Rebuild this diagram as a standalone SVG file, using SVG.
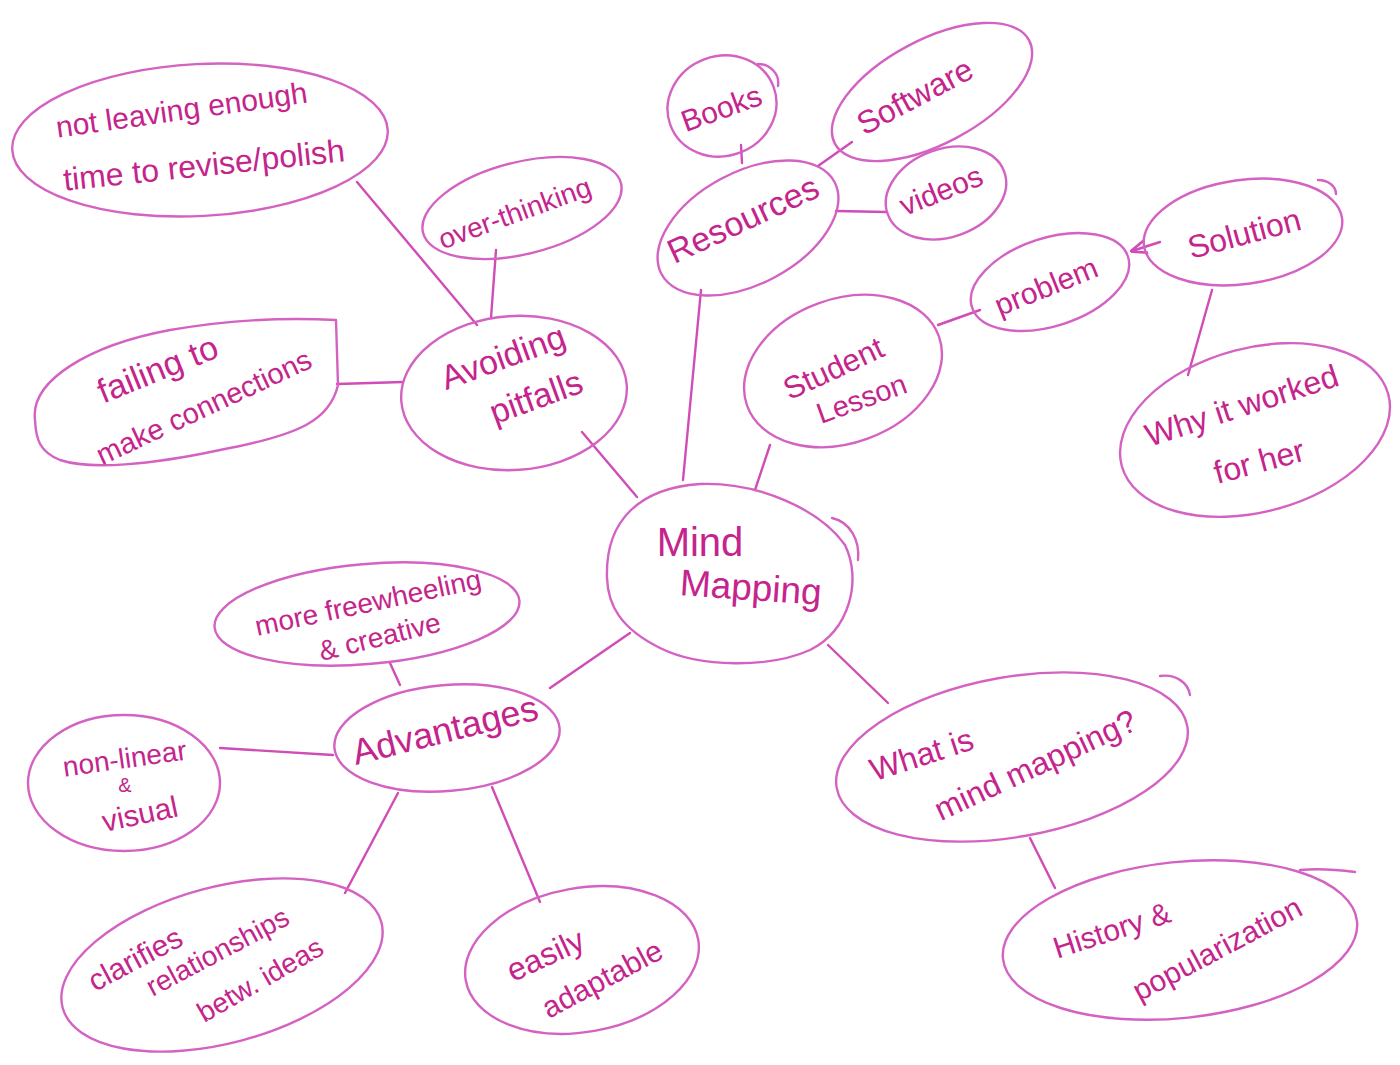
<svg xmlns="http://www.w3.org/2000/svg" width="1400" height="1065" viewBox="0 0 1400 1065">
<style>
.b{fill:none;stroke:#d462c2;stroke-width:2.4;stroke-linecap:round;stroke-linejoin:round}
.c{fill:none;stroke:#d04cb6;stroke-width:2.4;stroke-linecap:round}
.t{fill:#c4248c;font-family:"Liberation Sans","DejaVu Sans",sans-serif;text-anchor:middle}
</style>
<defs>
<marker id="ah" viewBox="0 0 10 10" refX="9" refY="5" markerWidth="7" markerHeight="7" orient="auto">
<path d="M0,1 L10,5 L0,9" fill="none" stroke="#d04cb6" stroke-width="1.6"/>
</marker>
</defs>
<rect width="1400" height="1065" fill="#ffffff"/>
<g id="connectors">
<line class="c" x1="637" y1="497" x2="582" y2="432"/>
<line class="c" x1="477" y1="325" x2="357" y2="182"/>
<line class="c" x1="491" y1="318" x2="496" y2="250"/>
<line class="c" x1="403" y1="382" x2="337" y2="384"/>
<line class="c" x1="683" y1="480" x2="701" y2="290"/>
<line class="c" x1="742" y1="163" x2="741" y2="145"/>
<line class="c" x1="818" y1="166" x2="852" y2="142"/>
<line class="c" x1="836" y1="211" x2="887" y2="212"/>
<line class="c" x1="755" y1="490" x2="770" y2="445"/>
<line class="c" x1="938" y1="325" x2="980" y2="310"/>
<line class="c" x1="1160" y1="242" x2="1132" y2="251" marker-end="url(#ah)"/>
<line class="c" x1="1212" y1="290" x2="1188" y2="375"/>
<line class="c" x1="828" y1="645" x2="888" y2="703"/>
<line class="c" x1="1030" y1="838" x2="1055" y2="888"/>
<line class="c" x1="630" y1="633" x2="550" y2="688"/>
<line class="c" x1="400" y1="685" x2="390" y2="663"/>
<line class="c" x1="333" y1="755" x2="220" y2="748"/>
<line class="c" x1="398" y1="793" x2="345" y2="893"/>
<line class="c" x1="492" y1="787" x2="540" y2="902"/>
</g>
<g id="mind-mapping">
<path class="b" d="M607,578 C605,520 640,488 700,484 C760,482 820,510 845,545 C862,580 850,630 810,650 C770,668 700,668 660,648 C620,628 608,605 607,578 Z"/>
<path class="b" d="M832,518 C850,522 860,540 858,560"/>
<text class="t" font-size="40" x="700" y="556">Mind</text>
<text class="t" font-size="37" x="750" y="600" transform="rotate(4 750 600)">Mapping</text>
</g>
<g id="avoiding-pitfalls">
<ellipse class="b" cx="514" cy="393" rx="113" ry="77" transform="rotate(-4 514 393)"/>
<text class="t" font-size="34" x="507" y="368" transform="rotate(-20 507 368)">Avoiding</text>
<text class="t" font-size="34" x="540" y="408" transform="rotate(-20 540 408)">pitfalls</text>
</g>
<g id="not-leaving">
<ellipse class="b" cx="200" cy="140" rx="188" ry="76" transform="rotate(-3 200 140)"/>
<text class="t" font-size="30" x="183" y="120" transform="rotate(-8 183 120)">not leaving enough</text>
<text class="t" font-size="32" x="205" y="176" transform="rotate(-6 205 176)">time to revise/polish</text>
</g>
<g id="over-thinking">
<ellipse class="b" cx="522" cy="208" rx="102" ry="46" transform="rotate(-14 522 208)"/>
<text class="t" font-size="28" x="518" y="222" transform="rotate(-20 518 222)">over-thinking</text>
</g>
<g id="failing">
<path class="b" d="M35,420 C30,380 90,345 170,330 C240,318 300,318 336,320 L338,385 C330,420 300,435 220,450 C150,465 90,470 60,460 C40,452 36,440 35,420 Z"/>
<text class="t" font-size="34" x="162" y="380" transform="rotate(-22 162 380)">failing to</text>
<text class="t" font-size="29" x="208" y="416" transform="rotate(-25 208 416)">make connections</text>
</g>
<g id="resources">
<ellipse class="b" cx="748" cy="228" rx="98" ry="56" transform="rotate(-28 748 228)"/>
<text class="t" font-size="34" x="748" y="230" transform="rotate(-25 748 230)">Resources</text>
</g>
<g id="books">
<ellipse class="b" cx="722" cy="106" rx="55" ry="50" transform="rotate(-20 722 106)"/>
<path class="b" d="M758,64 C770,64 780,74 778,86"/>
<text class="t" font-size="30" x="725" y="118" transform="rotate(-20 725 118)">Books</text>
</g>
<g id="software">
<ellipse class="b" cx="932" cy="92" rx="110" ry="52" transform="rotate(-28 932 92)"/>
<text class="t" font-size="32" x="920" y="106" transform="rotate(-28 920 106)">Software</text>
</g>
<g id="videos">
<ellipse class="b" cx="946" cy="193" rx="62" ry="44" transform="rotate(-20 946 193)"/>
<text class="t" font-size="30" x="945" y="200" transform="rotate(-22 945 200)">videos</text>
</g>
<g id="student-lesson">
<ellipse class="b" cx="843" cy="371" rx="102" ry="72" transform="rotate(-20 843 371)"/>
<text class="t" font-size="31" x="838" y="378" transform="rotate(-25 838 378)">Student</text>
<text class="t" font-size="29" x="865" y="408" transform="rotate(-20 865 408)">Lesson</text>
</g>
<g id="problem">
<ellipse class="b" cx="1050" cy="282" rx="82" ry="44" transform="rotate(-18 1050 282)"/>
<text class="t" font-size="30" x="1050" y="296" transform="rotate(-22 1050 296)">problem</text>
</g>
<g id="solution">
<ellipse class="b" cx="1243" cy="232" rx="100" ry="52" transform="rotate(-8 1243 232)"/>
<path class="b" d="M1318,180 C1328,180 1336,186 1336,194"/>
<text class="t" font-size="32" x="1247" y="244" transform="rotate(-15 1247 244)">Solution</text>
</g>
<g id="why-it-worked">
<ellipse class="b" cx="1255" cy="430" rx="138" ry="82" transform="rotate(-15 1255 430)"/>
<text class="t" font-size="32" x="1245" y="416" transform="rotate(-18 1245 416)">Why it worked</text>
<text class="t" font-size="32" x="1262" y="472" transform="rotate(-15 1262 472)">for her</text>
</g>
<g id="what-is">
<ellipse class="b" cx="1012" cy="757" rx="178" ry="80" transform="rotate(-10 1012 757)"/>
<path class="b" d="M1160,676 C1175,674 1188,682 1190,695"/>
<text class="t" font-size="32" x="925" y="765" transform="rotate(-18 925 765)">What is</text>
<text class="t" font-size="32" x="1040" y="775" transform="rotate(-25 1040 775)">mind mapping?</text>
</g>
<g id="history">
<ellipse class="b" cx="1180" cy="940" rx="178" ry="78" transform="rotate(-6 1180 940)"/>
<path class="b" d="M1300,870 C1320,868 1340,870 1355,872"/>
<text class="t" font-size="30" x="1115" y="940" transform="rotate(-18 1115 940)">History &amp;</text>
<text class="t" font-size="30" x="1222" y="958" transform="rotate(-28 1222 958)">popularization</text>
</g>
<g id="advantages">
<ellipse class="b" cx="447" cy="738" rx="113" ry="53" transform="rotate(-5 447 738)"/>
<text class="t" font-size="36" x="448" y="742" transform="rotate(-14 448 742)">Advantages</text>
</g>
<g id="freewheeling">
<ellipse class="b" cx="367" cy="614" rx="153" ry="50" transform="rotate(-5 367 614)"/>
<text class="t" font-size="28" x="370" y="612" transform="rotate(-12 370 612)">more freewheeling</text>
<text class="t" font-size="28" x="382" y="646" transform="rotate(-14 382 646)">&amp; creative</text>
</g>
<g id="non-linear">
<ellipse class="b" cx="124" cy="783" rx="96" ry="68"/>
<text class="t" font-size="28" x="126" y="768" transform="rotate(-8 126 768)">non-linear</text>
<text class="t" font-size="20" x="125" y="792">&amp;</text>
<text class="t" font-size="30" x="142" y="824" transform="rotate(-12 142 824)">visual</text>
</g>
<g id="clarifies">
<ellipse class="b" cx="222" cy="965" rx="165" ry="78" transform="rotate(-15 222 965)"/>
<text class="t" font-size="30" x="140" y="968" transform="rotate(-28 140 968)">clarifies</text>
<text class="t" font-size="28" x="222" y="960" transform="rotate(-28 222 960)">relationships</text>
<text class="t" font-size="28" x="265" y="988" transform="rotate(-30 265 988)">betw. ideas</text>
</g>
<g id="easily-adaptable">
<ellipse class="b" cx="582" cy="960" rx="118" ry="72" transform="rotate(-10 582 960)"/>
<text class="t" font-size="32" x="550" y="965" transform="rotate(-25 550 965)">easily</text>
<text class="t" font-size="30" x="607" y="988" transform="rotate(-28 607 988)">adaptable</text>
</g>
</svg>
